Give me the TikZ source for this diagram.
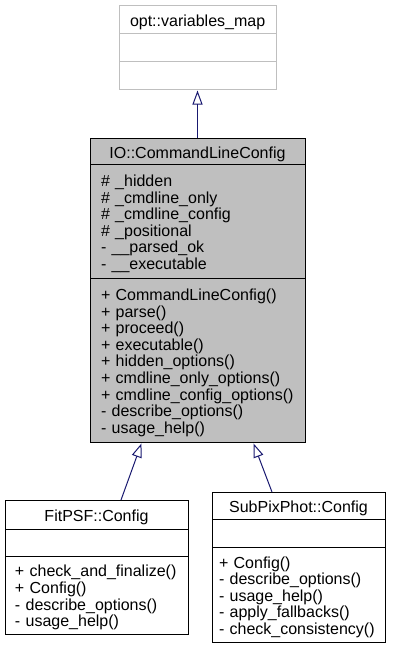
\documentclass[tikz,border=0pt]{standalone}
\usepackage{fontspec}
\setmainfont{Liberation Sans}
\usetikzlibrary{arrows.meta, positioning}

\definecolor{edgeblue}{HTML}{191970}
\definecolor{classgrey}{HTML}{BFBFBF}

\tikzset{
    part/.style={draw, line width=1pt, outer sep=0pt, inner xsep=11pt, inner ysep=0pt,
        align=left, font=\fontsize{16}{16.6}\selectfont},
    % members sit a little low in their compartment
    members/.style={part, execute at begin node={\rule{0pt}{17pt}}},
    titlepart/.style={part, anchor=north, align=center, text height=14.5pt, text depth=0pt},
    inherit/.style={draw=edgeblue, line width=1pt, shorten >=1.5pt,
        -{Triangle[open, length=14pt, width=10pt]}},
}

\begin{document}
\begin{tikzpicture}[x=1pt, y=-1pt]
\useasboundingbox (0,0) rectangle (392,649);

% base class, greyed out
\node[titlepart, draw=classgrey, text width=135pt, minimum height=28pt] (varTitle) at (197.5,5) {opt::variables\_map};
\node[part, draw=classgrey, text width=135pt, minimum height=28pt, below=0pt of varTitle] (varAttr) {};
\node[part, draw=classgrey, text width=135pt, minimum height=28pt, below=0pt of varAttr] (varOps) {};

% the class itself
\node[titlepart, fill=classgrey, text width=193pt, minimum height=26pt] (cmdTitle) at (197.5,138) {IO::CommandLineConfig};
\node[members, fill=classgrey, text width=193pt, minimum height=114pt, below=0pt of cmdTitle] (cmdAttr) {%
    \#~\_hidden\\
    \#~\_cmdline\_only\\
    \#~\_cmdline\_config\\
    \#~\_positional\\
    -~\_\_parsed\_ok\\
    -~\_\_executable};
\node[members, fill=classgrey, text width=193pt, minimum height=164pt, below=0pt of cmdAttr] (cmdOps) {%
    +~CommandLineConfig()\\
    +~parse()\\
    +~proceed()\\
    +~executable()\\
    +~hidden\_options()\\
    +~cmdline\_only\_options()\\
    +~cmdline\_config\_options()\\
    -~describe\_options()\\
    -~usage\_help()};

% derived classes
\node[titlepart, inner xsep=10pt, text width=163pt, minimum height=29pt] (fitTitle) at (96.5,500) {FitPSF::Config};
\node[part, inner xsep=10pt, text width=163pt, minimum height=27pt, below=0pt of fitTitle] (fitAttr) {};
\node[members, inner xsep=10pt, text width=163pt, minimum height=78pt, below=0pt of fitAttr] (fitOps) {%
    +~check\_and\_finalize()\\
    +~Config()\\
    -~describe\_options()\\
    -~usage\_help()};

\node[titlepart, inner xsep=7pt, text width=159pt, minimum height=27pt] (subTitle) at (298.5,492) {SubPixPhot::Config};
\node[part, inner xsep=7pt, text width=159pt, minimum height=28pt, below=0pt of subTitle] (subAttr) {};
\node[members, inner xsep=7pt, text width=159pt, minimum height=95pt, below=0pt of subAttr] (subOps) {%
    +~Config()\\
    -~describe\_options()\\
    -~usage\_help()\\
    -~apply\_fallbacks()\\
    -~check\_consistency()};

% inheritance
\draw[inherit] (cmdTitle.north) -- (varOps.south);
\draw[inherit] ([xshift=24.5pt]fitTitle.north) -- ([xshift=-55.5pt]cmdOps.south);
\draw[inherit] ([xshift=-26.5pt]subTitle.north) -- ([xshift=55.5pt]cmdOps.south);
\end{tikzpicture}
\end{document}
